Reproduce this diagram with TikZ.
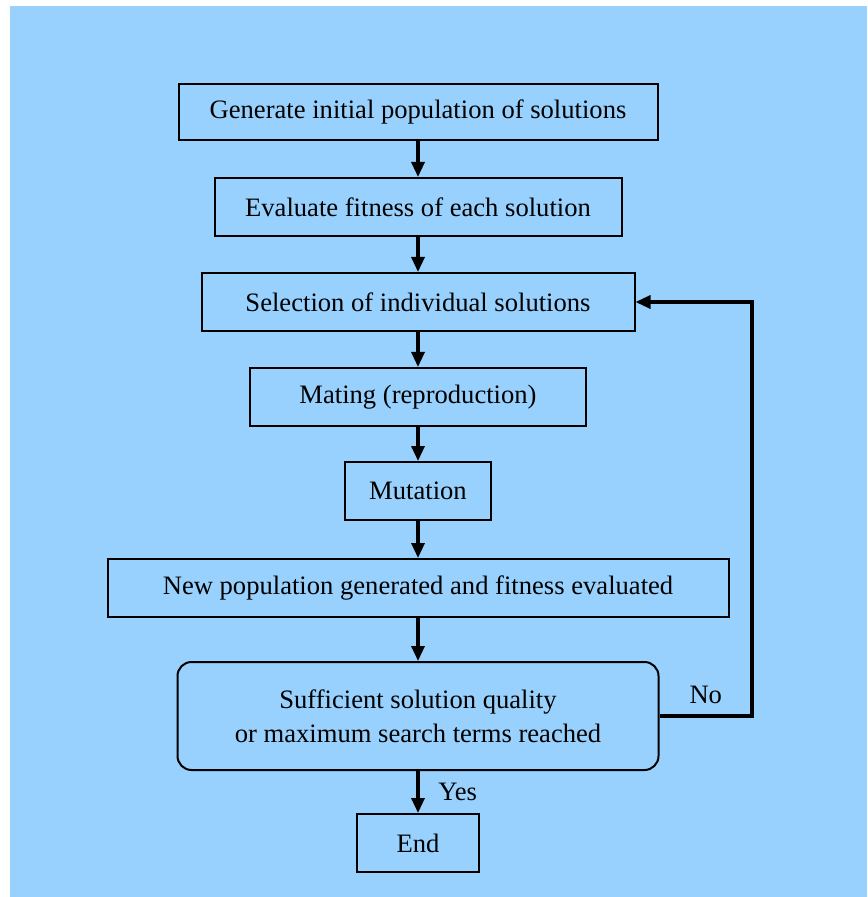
\documentclass[tikz,border=0pt]{standalone}
\usepackage{fontspec}
\setmainfont{Liberation Serif}
\usetikzlibrary{arrows.meta}
\definecolor{skyback}{RGB}{152,209,253}

\begin{document}
\begin{tikzpicture}[x=0.5pt, y=-0.5pt, >={Triangle[length=7.5pt,width=6.5pt]},
  box/.style={draw, line width=1pt, minimum height=29pt, inner sep=0pt,
    font=\fontsize{13.3}{17}\selectfont},
  flow/.style={->, line width=1.6pt}]
\useasboundingbox (0,0) rectangle (867,897);
\fill[skyback] (10,6) rectangle (867,897);

%% boxes of the loop
\node[box, minimum width=239.5pt, minimum height=28pt] (gen) at (418,112) {Generate initial population of solutions};
\node[box, minimum width=203.5pt] (eval) at (418,207) {Evaluate fitness of each solution};
\node[box, minimum width=216.5pt] (sel) at (418,302) {Selection of individual solutions};
\node[box, minimum width=168pt] (mate) at (418,397) {Mating (reproduction)};
\node[box, minimum width=73pt] (mut) at (418,491) {Mutation};
\node[box, minimum width=310.5pt] (newpop) at (418,588) {New population generated and fitness evaluated};
\node[box, rounded corners=7pt, minimum width=240.5pt, minimum height=54pt, align=center] (suff) at (418,716)
  {Sufficient solution quality\\or maximum search terms reached};
\node[box, minimum width=61pt] (end) at (418,843) {End};

%% arrows
\draw[flow] (gen) -- (eval);
\draw[flow] (eval) -- (sel);
\draw[flow] (sel) -- (mate);
\draw[flow] (mate) -- (mut);
\draw[flow] (mut) -- (newpop);
\draw[flow] (newpop) -- (suff);
\draw[flow] (suff) -- node[right=6pt, font=\fontsize{13.3}{17}\selectfont]{Yes} (end);

%% back to selection
\coordinate (turn) at (752,716);
\draw[flow] (suff.east) -- node[above=2pt, font=\fontsize{13.3}{17}\selectfont]{No} (turn) |- (sel.east);
\end{tikzpicture}
\end{document}
